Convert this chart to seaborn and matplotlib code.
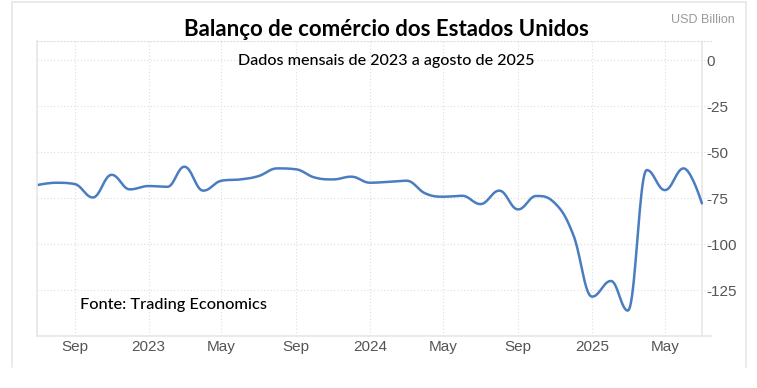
import numpy as np
import pandas as pd
import matplotlib
matplotlib.use('Agg')
import matplotlib.pyplot as plt
import matplotlib.dates as mdates
from matplotlib.lines import Line2D
import seaborn as sns

# ==========================================
# DATA
# ==========================================
months = pd.date_range('2022-07-01', '2025-07-01', freq='MS')
balance = [
    -68.0, -66.7, -67.4, -74.7, -62.4, -70.3,           # Jul-Dec 2022
    -68.5, -68.9, -58.0, -71.0, -65.6, -64.9,           # Jan-Jun 2023
    -63.1, -58.9, -59.4, -63.8, -64.9, -63.4,           # Jul-Dec 2023
    -66.7, -66.2, -65.6, -72.5, -74.3, -73.8,           # Jan-Jun 2024
    -78.3, -71.0, -81.2, -73.9, -77.9, -95.0,           # Jul-Dec 2024
    -128.6, -120.1, -136.2, -59.8, -70.7, -58.9, -77.9  # Jan-Jul 2025
]
tick_dates = pd.to_datetime(['2022-09-01', '2023-01-01', '2023-05-01', '2023-09-01',
                             '2024-01-01', '2024-05-01', '2024-09-01', '2025-01-01',
                             '2025-05-01'])
tick_labels = ['Sep', '2023', 'May', 'Sep', '2024', 'May', 'Sep', '2025', 'May']
y_ticks = [0, -25, -50, -75, -100, -125]

title = 'Balanço de comércio dos Estados Unidos'
subtitle = 'Dados mensais de 2023 a agosto de 2025'
source = 'Fonte: Trading Economics'
unit = 'USD Billion'

LINE_COLOR = '#4a7dbf'
GRID_COLOR = '#dedede'
FRAME_COLOR = '#e6e6e6'


# spline smoothing of the drawn line (same idea as a charting-lib "spline" series)
def spline_path(x, y, smoothing=1.5, n=20):
    x = np.asarray(x, float)
    y = np.asarray(y, float)
    k = len(x)
    lc = np.zeros((k, 2))
    rc = np.zeros((k, 2))
    for i in range(k):
        if i == 0 or i == k - 1:
            lc[i] = rc[i] = (x[i], y[i])
            continue
        d = smoothing + 1
        lx = (smoothing * x[i] + x[i - 1]) / d
        ly = (smoothing * y[i] + y[i - 1]) / d
        rx = (smoothing * x[i] + x[i + 1]) / d
        ry = (smoothing * y[i] + y[i + 1]) / d
        corr = (ry - ly) * (rx - x[i]) / (rx - lx) + y[i] - ry
        ly += corr
        ry += corr
        if ly > y[i - 1] and ly > y[i]:
            ly = max(y[i - 1], y[i]); ry = 2 * y[i] - ly
        elif ly < y[i - 1] and ly < y[i]:
            ly = min(y[i - 1], y[i]); ry = 2 * y[i] - ly
        if ry > y[i + 1] and ry > y[i]:
            ry = max(y[i + 1], y[i]); ly = 2 * y[i] - ry
        elif ry < y[i + 1] and ry < y[i]:
            ry = min(y[i + 1], y[i]); ly = 2 * y[i] - ry
        lc[i] = (lx, ly)
        rc[i] = (rx, ry)
    t = np.linspace(0, 1, n, endpoint=False)[:, None]
    pts = []
    for i in range(k - 1):
        p0 = np.array([x[i], y[i]]); p1 = rc[i]; p2 = lc[i + 1]; p3 = np.array([x[i + 1], y[i + 1]])
        seg = (1 - t) ** 3 * p0 + 3 * (1 - t) ** 2 * t * p1 + 3 * (1 - t) * t ** 2 * p2 + t ** 3 * p3
        pts.append(seg)
    pts.append(np.array([[x[-1], y[-1]]]))
    pts = np.vstack(pts)
    return pts[:, 0], pts[:, 1]


xs, ys = spline_path(mdates.date2num(months), balance)
df = pd.DataFrame({'date': mdates.num2date(xs), 'value': ys})
df['date'] = pd.to_datetime(df['date']).dt.tz_localize(None)

# ==========================================
# PLOT
# ==========================================
sns.set_theme(style='white')
plt.rcParams['font.family'] = ['Liberation Sans', 'DejaVu Sans']

fig = plt.figure(figsize=(7.57, 3.88), dpi=100)
ax = fig.add_axes([37 / 757, 1 - 336 / 388, 674 / 757, (336 - 40.7) / 388])

sns.lineplot(data=df, x='date', y='value', ax=ax, color=LINE_COLOR, linewidth=1.8,
             sort=False, estimator=None)

ax.set_xlim(months[0], months[-1] + pd.Timedelta(days=15))
ax.set_ylim(-150, 10.5)

ax.set_xticks(tick_dates)
ax.set_xticklabels(tick_labels)
ax.set_yticks(y_ticks)
ax.set_yticklabels([str(v) for v in y_ticks])
ax.yaxis.tick_right()
ax.tick_params(axis='both', length=0, labelsize=11, colors='#555555')
ax.tick_params(axis='x', pad=3)
ax.tick_params(axis='y', pad=-3.5)
for lbl in ax.get_yticklabels():
    lbl.set_horizontalalignment('left')
ax.set_xlabel('')
ax.set_ylabel('')

ax.grid(True, linestyle=(0, (1, 2)), color=GRID_COLOR, linewidth=0.8)
ax.spines['right'].set_visible(False)
ax.spines['top'].set_linestyle((0, (1, 2)))
ax.spines['top'].set_color(GRID_COLOR)
ax.spines['top'].set_linewidth(0.8)
ax.spines['left'].set_color(FRAME_COLOR)
ax.spines['bottom'].set_color(FRAME_COLOR)
ax.spines['left'].set_linewidth(1.2)
ax.spines['bottom'].set_linewidth(1.2)
ax.axvline(months[-1], color=FRAME_COLOR, linewidth=1.2, zorder=1)

# outer frame
W, H = 757, 388
for (x0, y0, x1, y1) in [(12, 2, 746, 2), (12, 2, 12, 367), (746, 2, 746, 367)]:
    fig.add_artist(Line2D([x0 / W, x1 / W], [1 - y0 / H, 1 - y1 / H],
                          color=FRAME_COLOR, linewidth=1.2))

fig.text(386 / W, 1 - 29 / H, title, ha='center', va='center', fontsize=16,
         fontweight='bold', family='Lato', color='#000000')
fig.text(386 / W, 1 - 61 / H, subtitle, ha='center', va='center', fontsize=11.6,
         fontweight='medium', family='Lato', color='#000000')
fig.text(80 / W, 1 - 305 / H, source, ha='left', va='center', fontsize=11.8,
         fontweight='medium', family='Lato', color='#000000')
fig.text(735 / W, 1 - 20 / H, unit, ha='right', va='center', fontsize=9,
         color='#999999')

fig.savefig('out.png', dpi=100)
plt.close(fig)
